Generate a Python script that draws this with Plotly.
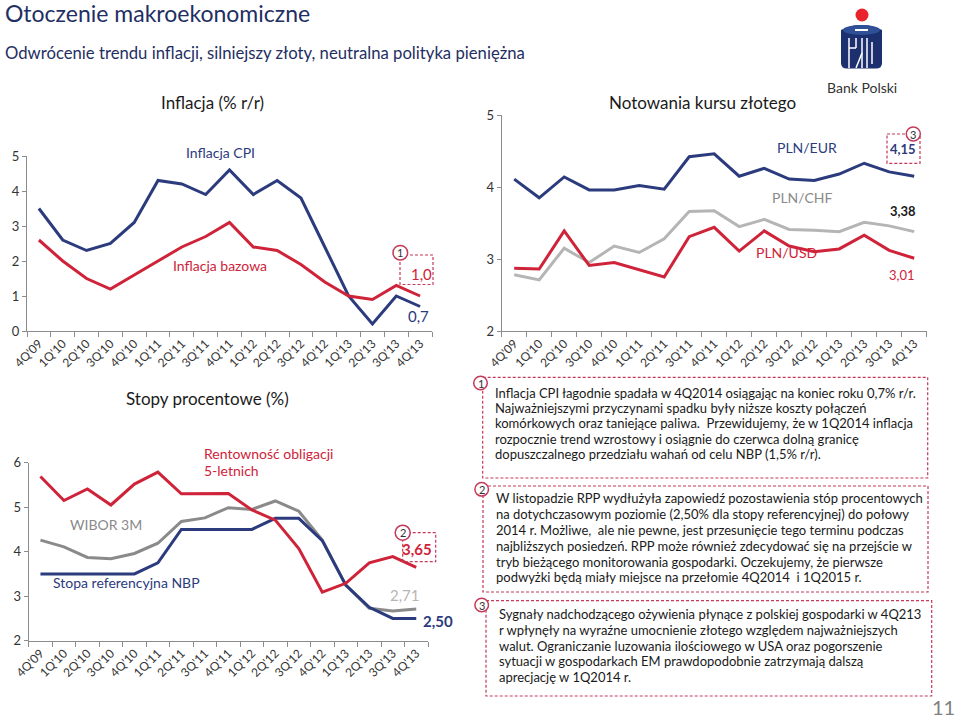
import plotly.graph_objects as go

W, H = 960, 719
FONT = "Lato"

quarters = ["4Q'09", "1Q'10", "2Q'10", "3Q'10", "4Q'10", "1Q'11", "2Q'11", "3Q'11",
            "4Q'11", "1Q'12", "2Q'12", "3Q'12", "4Q'12", "1Q'13", "2Q'13", "3Q'13", "4Q'13"]

cpi = [3.5, 2.6, 2.3, 2.5, 3.1, 4.3, 4.2, 3.9, 4.6, 3.9, 4.3, 3.8, 2.4, 1.0, 0.2, 1.0, 0.7]
core = [2.6, 2.0, 1.5, 1.2, 1.6, 2.0, 2.4, 2.7, 3.1, 2.4, 2.3, 1.9, 1.4, 1.0, 0.9, 1.3, 1.0]

pln_eur = [4.11, 3.85, 4.14, 3.96, 3.96, 4.02, 3.97, 4.42, 4.46, 4.15, 4.26, 4.11, 4.09, 4.18, 4.33, 4.21, 4.15]
pln_chf = [2.78, 2.71, 3.15, 2.95, 3.18, 3.09, 3.28, 3.66, 3.67, 3.45, 3.55, 3.41, 3.40, 3.38, 3.51, 3.46, 3.38]
pln_usd = [2.87, 2.86, 3.39, 2.91, 2.95, 2.85, 2.75, 3.31, 3.44, 3.11, 3.39, 3.18, 3.10, 3.14, 3.33, 3.12, 3.01]

bond5y = [5.69, 5.15, 5.41, 5.05, 5.52, 5.79, 5.30, 5.31, 5.31, 4.94, 4.71, 4.07, 3.09, 3.29, 3.75, 3.89, 3.65]
wibor3m = [4.26, 4.11, 3.87, 3.84, 3.96, 4.19, 4.68, 4.76, 4.99, 4.95, 5.14, 4.91, 4.26, 3.25, 2.73, 2.67, 2.71]
nbp_ref = [3.5, 3.5, 3.5, 3.5, 3.5, 3.75, 4.5, 4.5, 4.5, 4.5, 4.75, 4.75, 4.25, 3.25, 2.75, 2.5, 2.5]

box1_lines = [
    "Inflacja CPI łagodnie spadała w 4Q2014 osiągając na koniec roku 0,7% r/r.",
    "Najważniejszymi przyczynami spadku były niższe koszty połączeń",
    "komórkowych oraz taniejące paliwa.  Przewidujemy, że w 1Q2014 inflacja",
    "rozpocznie trend wzrostowy i osiągnie do czerwca dolną granicę",
    "dopuszczalnego przedziału wahań od celu NBP (1,5% r/r).",
]
box2_lines = [
    "W listopadzie RPP wydłużyła zapowiedź pozostawienia stóp procentowych",
    "na dotychczasowym poziomie (2,50% dla stopy referencyjnej) do połowy",
    "2014 r. Możliwe,  ale nie pewne, jest przesunięcie tego terminu podczas",
    "najbliższych posiedzeń. RPP może również zdecydować się na przejście w",
    "tryb bieżącego monitorowania gospodarki. Oczekujemy, że pierwsze",
    "podwyżki będą miały miejsce na przełomie 4Q2014  i 1Q2015 r.",
]
box3_lines = [
    "Sygnały nadchodzącego ożywienia płynące z polskiej gospodarki w 4Q213",
    "r wpłynęły na wyraźne umocnienie złotego względem najważniejszych",
    "walut. Ograniczanie luzowania ilościowego w USA oraz pogorszenie",
    "sytuacji w gospodarkach EM prawdopodobnie zatrzymają dalszą",
    "aprecjację w 1Q2014 r.",
]

NAVY = "#2b3b7d"
RED = "#cf2339"
GRAY_CHF = "#b5b5b5"
GRAY_WIB = "#8a8a8a"
DASH = "#c43a5a"
TNAVY = "#1f2f63"
AXIS = "#8c8c8c"
DASHSTYLE = "3px,2px"


def X(p):
    return p / W


def Y(p):
    return 1 - p / H


fig = go.Figure()

series = [
    ("x", "y", cpi, NAVY), ("x", "y", core, RED),
    ("x2", "y2", pln_chf, GRAY_CHF), ("x2", "y2", pln_usd, RED), ("x2", "y2", pln_eur, NAVY),
    ("x3", "y3", wibor3m, GRAY_WIB), ("x3", "y3", nbp_ref, NAVY), ("x3", "y3", bond5y, RED),
]
for xa, ya, vals, col in series:
    fig.add_trace(go.Scatter(x=quarters, y=vals, xaxis=xa, yaxis=ya, mode="lines",
                             line=dict(color=col, width=3), showlegend=False, hoverinfo="skip"))


def xaxis_cfg(x0, x1, anchor):
    return dict(domain=[X(x0), X(x1)], anchor=anchor, type="category", range=[-0.5, 16.5],
                showline=True, linecolor=AXIS, linewidth=1, ticks="outside", tickson="boundaries",
                ticklen=5, tickcolor=AXIS, tickangle=-45, showgrid=False, zeroline=False,
                automargin=False,
                tickfont=dict(family=FONT, size=12, color="#333333"), fixedrange=True)


def yaxis_cfg(ytop, ybot, rng, anchor):
    return dict(domain=[Y(ybot), Y(ytop)], anchor=anchor, range=rng, dtick=1,
                showline=True, linecolor=AXIS, linewidth=1, ticks="outside", ticklen=4,
                tickcolor=AXIS, showgrid=False, zeroline=False, automargin=False,
                tickfont=dict(family=FONT, size=13, color="#333333"), fixedrange=True)


fig.update_layout(
    width=W, height=H, margin=dict(l=0, r=0, t=0, b=0, autoexpand=False),
    paper_bgcolor="white", plot_bgcolor="white",
    xaxis=xaxis_cfg(27, 432, "y"), yaxis=yaxis_cfg(156, 331, [0, 5], "x"),
    xaxis2=xaxis_cfg(501.7, 926.7, "y2"), yaxis2=yaxis_cfg(115, 331, [2, 5], "x2"),
    xaxis3=xaxis_cfg(28.7, 428, "y3"), yaxis3=yaxis_cfg(462.7, 640.7, [2, 6], "x3"),
)

ann = []


def txt(x, y, s, size, color, bold=False, xanchor="center", family=FONT):
    if bold:
        s = "<b>" + s + "</b>"
    ann.append(dict(x=X(x), y=Y(y), xref="paper", yref="paper", text=s, showarrow=False,
                    xanchor=xanchor, yanchor="middle",
                    font=dict(family=family, size=size, color=color)))


# titles
txt(3, 13, "Otoczenie makroekonomiczne", 23, TNAVY, xanchor="left")
txt(3, 53, "Odwrócenie trendu inflacji, silniejszy złoty, neutralna polityka pieniężna", 16.7, TNAVY, xanchor="left")

# chart titles
txt(212, 103, "Inflacja (% r/r)", 17, "#1a1a1a")
txt(702, 103, "Notowania kursu złotego", 17, "#1a1a1a")
txt(207, 398, "Stopy procentowe (%)", 17, "#1a1a1a")

# chart 1 labels
txt(220, 153, "Inflacja CPI", 14, NAVY)
txt(220, 265, "Inflacja bazowa", 14, RED)
txt(421.7, 274, "1,0", 15, RED)
txt(418, 316, "0,7", 15, NAVY)

# chart 2 labels
txt(806.7, 147, "PLN/EUR", 14, NAVY)
txt(802.7, 197.5, "PLN/CHF", 14, GRAY_WIB)
txt(786.7, 252.5, "PLN/USD", 14, RED)
txt(903.3, 148.5, "4,15", 13, NAVY, bold=True)
txt(903.3, 211, "3,38", 13, "#1a1a1a", bold=True)
txt(901.7, 275, "3,01", 13, RED)

# chart 3 labels
txt(201.7, 453.3, "Rentowność obligacji", 14, RED, xanchor="left")
txt(201.7, 470.7, "5-letnich", 14, RED, xanchor="left")
txt(68, 524.3, "WIBOR 3M", 14, GRAY_WIB, xanchor="left")
txt(50.7, 582, "Stopa referencyjna NBP", 14, NAVY, xanchor="left")
txt(416.7, 549.3, "3,65", 15, RED, bold=True)
txt(405, 595, "2,71", 15, GRAY_CHF)
txt(438.3, 620.7, "2,50", 15, NAVY, bold=True)

# text panel
for i, s in enumerate(box1_lines):
    txt(492.7, 392.7 + i * 15.3, s, 13, "#1a1a1a", xanchor="left")
for i, s in enumerate(box2_lines):
    txt(494, 498.3 + i * 15.8, s, 13, "#1a1a1a", xanchor="left")
for i, s in enumerate(box3_lines):
    txt(496.7, 614.3 + i * 15.6, s, 13, "#1a1a1a", xanchor="left")

txt(957, 707, "11", 20, "#808080", xanchor="right")
txt(861.7, 87.3, "Bank Polski", 14, "#333333")

shapes = []


def dline(x0, y0, x1, y1, color=DASH, dash=DASHSTYLE, width=1.2):
    shapes.append(dict(type="line", xref="paper", yref="paper", x0=X(x0), y0=Y(y0), x1=X(x1), y1=Y(y1),
                       line=dict(color=color, width=width, dash=dash)))


def drect(x0, y0, x1, y1):
    shapes.append(dict(type="rect", xref="paper", yref="paper", x0=X(x0), y0=Y(y0), x1=X(x1), y1=Y(y1),
                       line=dict(color=DASH, width=1.2, dash=DASHSTYLE), fillcolor="rgba(0,0,0,0)"))


def circ(cx, cy, r, label):
    shapes.append(dict(type="circle", xref="paper", yref="paper", x0=X(cx - r), x1=X(cx + r),
                       y0=Y(cy + r), y1=Y(cy - r), line=dict(color=DASH, width=1.5), fillcolor="white"))
    txt(cx, cy, label, 11, "#333333")


# callout boxes in charts
drect(400, 255, 433, 284.5)
circ(400.3, 252.7, 7.3, "1")
drect(402.7, 532.7, 435.7, 561.7)
circ(402.7, 532.7, 7.5, "2")
drect(887, 134, 920, 163.3)
circ(913.3, 134, 7, "3")

# text panel boxes
drect(482.7, 377.3, 927.7, 478)
drect(483, 486, 928, 592)
drect(486, 600.7, 931.7, 696)
circ(480.5, 383, 6.8, "1")
circ(481.7, 489.3, 6.8, "2")
circ(481.7, 605, 6.8, "3")

# logo (decorative)
LOGO = "#1c2f6e"
shapes.append(dict(type="circle", xref="paper", yref="paper", x0=X(855.5), x1=X(868.5), y0=Y(21.5), y1=Y(8.5),
                   line=dict(width=0), fillcolor="#e8232b"))
body = (f"M {X(841)},{Y(30)} L {X(841)},{Y(63)} Q {X(841)},{Y(68.5)} {X(847)},{Y(68.5)} "
        f"L {X(876)},{Y(68.5)} Q {X(882)},{Y(68.5)} {X(882)},{Y(63)} L {X(882)},{Y(30)} "
        f"Q {X(861.5)},{Y(20)} {X(841)},{Y(30)} Z")
shapes.append(dict(type="path", xref="paper", yref="paper", path=body, line=dict(width=0), fillcolor=LOGO))
shapes.append(dict(type="circle", xref="paper", yref="paper", x0=X(843), x1=X(880), y0=Y(35), y1=Y(25),
                   line=dict(width=0), fillcolor="#2f4f96"))
dline(855, 30, 868, 30, color="white", dash="solid", width=2)
dline(849, 38, 849, 68, color="white", dash="solid", width=1.5)
dline(862, 38, 862, 68, color="white", dash="solid", width=1.5)
dline(867, 38, 867, 68, color="white", dash="solid", width=1.5)
dline(849, 48, 856, 48, color="white", dash="solid", width=1.5)
dline(856, 38, 856, 48, color="white", dash="solid", width=1.5)
dline(872, 42, 872, 64, color="white", dash="solid", width=1.5)
dline(862, 53, 856, 68, color="white", dash="solid", width=1.5)

fig.update_layout(annotations=ann, shapes=shapes)
fig.write_html("out.html", config={"displayModeBar": False},
               post_script="document.body.style.margin='0';document.body.style.overflow='hidden';")
